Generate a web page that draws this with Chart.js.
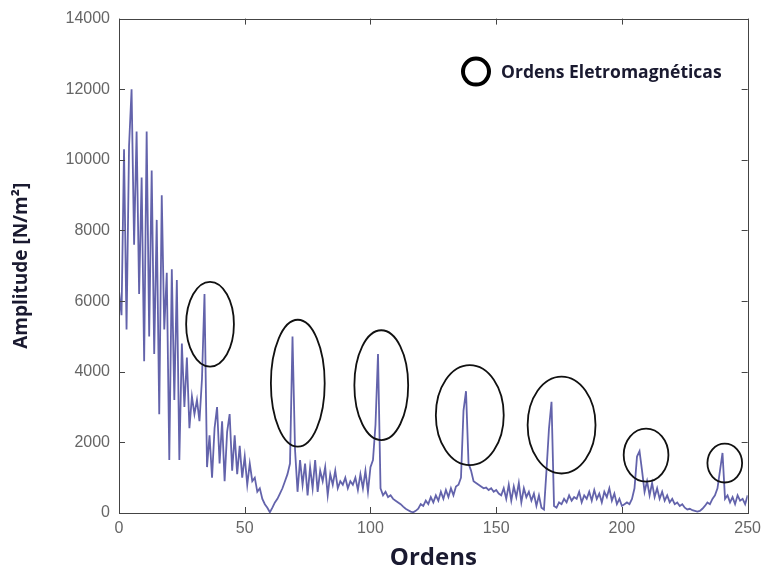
<!DOCTYPE html>
<html><head><meta charset="utf-8">
<script src="https://cdn.jsdelivr.net/npm/chart.js@4"></script>
<style>html,body{margin:0;padding:0;background:#fff;}#wrap{width:767px;height:573px;}</style>
</head><body><div id="wrap"><canvas id="c" width="767" height="573"></canvas></div>
<script>
// Amplitude per order (0..250)
const amplitude = [
6300,5600,10300,5200,10400,12000,7600,10800,6200,9500,
4300,10800,5000,9700,4500,8300,2800,9000,5200,6800,
1500,6900,3200,6600,1500,4800,3000,4400,2400,3300,
2800,3200,2600,3800,6200,1300,2200,1000,2400,3000,
1400,2600,900,2300,2800,1200,2200,1100,1900,1000,
1600,800,1400,900,1000,600,700,400,250,150,
20,150,300,400,550,700,900,1100,1400,5000,
1800,600,1500,800,1400,500,1300,700,1500,600,
1200,900,1300,500,1100,800,1200,700,900,800,
1000,700,900,800,1000,650,1100,700,1200,600,
1300,1500,2500,4500,700,500,600,450,500,400,
350,300,250,180,120,80,40,20,60,120,
250,200,350,250,450,300,500,350,600,400,
650,450,700,500,750,800,1000,2900,3450,1400,
1200,900,850,800,750,700,720,650,700,600,
650,550,500,700,400,800,350,750,450,850,
300,700,450,600,350,550,200,500,150,100,
1200,2400,3150,200,150,300,250,400,300,500,
350,450,400,600,300,500,400,600,350,650,
400,550,300,600,450,700,350,550,250,400,
200,250,300,250,400,700,1600,1750,1200,600,
900,500,850,450,700,400,600,350,500,300,
400,250,300,200,250,150,100,120,80,60,
40,60,120,200,300,250,400,500,700,1200,
1700,400,500,300,450,250,500,350,400,250,500
];
const orders = amplitude.map((_, i) => i);
const xTicks = [0, 50, 100, 150, 200, 250];
const yTicks = [0, 2000, 4000, 6000, 8000, 10000, 12000, 14000];
// Electromagnetic-order ellipses (data units)
const ellipseOrder = [36.2, 71.1, 104.3, 139.5, 176.0, 209.6, 240.9];
const ellipseAmp   = [5345, 3676, 3620, 2771, 2490, 1640, 1414];
const ellipseHalfW = [9.5, 10.7, 10.7, 13.5, 13.5, 8.9, 6.9];
const ellipseHalfH = [1200, 1796, 1555, 1414, 1372, 750, 550];
const legendLabel = 'Ordens Eletromagnéticas';
const xTitle = 'Ordens';
const yTitle = 'Amplitude [N/m²]';

const framePlugin = {
  id: 'frame',
  afterDatasetsDraw(chart) {
    const {ctx, chartArea: a, scales: {x, y}} = chart;
    ctx.save();
    // ellipses
    ctx.strokeStyle = '#111';
    ctx.lineWidth = 1.8;
    for (let i = 0; i < ellipseOrder.length; i++) {
      const cx = x.getPixelForValue(ellipseOrder[i]);
      const cy = y.getPixelForValue(ellipseAmp[i]);
      const rx = Math.abs(x.getPixelForValue(ellipseOrder[i] + ellipseHalfW[i]) - cx);
      const ry = Math.abs(y.getPixelForValue(ellipseAmp[i] + ellipseHalfH[i]) - cy);
      ctx.beginPath();
      ctx.ellipse(cx, cy, rx, ry, 0, 0, Math.PI * 2);
      ctx.stroke();
    }
    // box
    ctx.strokeStyle = '#444';
    ctx.lineWidth = 1;
    ctx.strokeRect(Math.round(a.left) + 0.5, Math.round(a.top) + 0.5, Math.round(a.width), Math.round(a.height));
    // inward ticks
    const tl = 6;
    ctx.beginPath();
    xTicks.forEach(v => {
      const px = Math.round(x.getPixelForValue(v)) + 0.5;
      ctx.moveTo(px, a.bottom); ctx.lineTo(px, a.bottom - tl);
      ctx.moveTo(px, a.top); ctx.lineTo(px, a.top + tl);
    });
    yTicks.forEach(v => {
      const py = Math.round(y.getPixelForValue(v)) + 0.5;
      ctx.moveTo(a.left, py); ctx.lineTo(a.left + tl, py);
      ctx.moveTo(a.right, py); ctx.lineTo(a.right - tl, py);
    });
    ctx.stroke();
    // legend
    const lx = a.left + 357, ly = a.top + 53;
    ctx.strokeStyle = '#000';
    ctx.lineWidth = 4;
    ctx.beginPath();
    ctx.arc(lx, ly, 13, 0, Math.PI * 2);
    ctx.stroke();
    ctx.fillStyle = '#1a1a30';
    ctx.font = 'bold 17.5px "Open Sans"';
    ctx.textBaseline = 'middle';
    ctx.textAlign = 'left';
    ctx.fillText(legendLabel, lx + 25, ly + 1);
    ctx.restore();
  }
};

new Chart(document.getElementById('c'), {
  type: 'line',
  data: {
    labels: orders,
    datasets: [{
      data: orders.map((o, i) => ({x: o, y: amplitude[i]})),
      borderColor: 'rgba(60,60,150,0.8)',
      borderWidth: 1.8,
      pointRadius: 0,
      tension: 0,
      fill: false
    }]
  },
  options: {
    responsive: false,
    animation: false,
    devicePixelRatio: 1,
    layout: {padding: {left: 0, top: 18, right: 16, bottom: 0}},
    plugins: {legend: {display: false}, tooltip: {enabled: false}},
    scales: {
      x: {
        type: 'linear', min: 0, max: 250,
        afterBuildTicks: s => { s.ticks = xTicks.map(v => ({value: v})); },
        afterFit: s => { s.height = 60; },
        grid: {display: false, drawTicks: false},
        border: {display: false},
        ticks: {padding: 6, color: '#666', font: {family: 'Liberation Sans', size: 16}, maxRotation: 0,
                callback: v => String(v)},
        title: {display: true, text: xTitle, color: '#1a1a30', padding: {top: 0, bottom: 0},
                font: {family: 'Open Sans', size: 24, weight: 'bold'}}
      },
      y: {
        type: 'linear', min: 0, max: 14000,
        afterBuildTicks: s => { s.ticks = yTicks.map(v => ({value: v})); },
        afterFit: s => { s.width = 119; },
        grid: {display: false, drawTicks: false},
        border: {display: false},
        ticks: {padding: 9, color: '#666', font: {family: 'Liberation Sans', size: 16},
                callback: v => String(v)},
        title: {display: true, text: yTitle, color: '#1a1a30', padding: {top: 10, bottom: 0},
                font: {family: 'Open Sans', size: 19, weight: 'bold'}}
      }
    }
  },
  plugins: [framePlugin]
});
</script></body></html>
